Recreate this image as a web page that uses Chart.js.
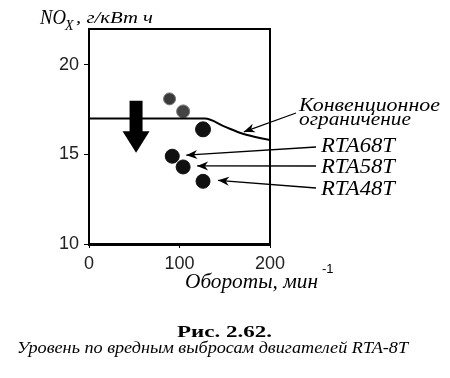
<!DOCTYPE html>
<html>
<head>
<meta charset="utf-8">
<script src="https://cdn.jsdelivr.net/npm/chart.js@4/dist/chart.umd.min.js"></script>
<style>
  html, body { margin: 0; padding: 0; background: #fff; }
  #wrap { width: 450px; height: 378px; }
</style>
</head>
<body>
<div id="wrap"><canvas id="c" width="450" height="378"></canvas></div>
<script>
// ticks
const xTicks = [0, 100, 200];
const yTicks = [10, 15, 20];

// conventional limit line
const limitX = [0, 128, 150, 170, 200];
const limitY = [17, 17, 16.55, 16.15, 15.8];

// earlier engines (upper dots)
const oldX = [89, 104, 126];
const oldY = [18.1, 17.4, 16.4];

// RTA-8T engines
const engNames = ['RTA68T', 'RTA58T', 'RTA48T'];
const engX = [92, 104, 126];
const engY = [14.9, 14.3, 13.5];

// big downward arrow (data coords)
const bigArrowX = 52;
const bigArrowTop = 18;
const bigArrowHead = 16.3;
const bigArrowTip = 15.1;

const SERIF = '"Liberation Serif", "DejaVu Serif", serif';
const SANS = '"Liberation Sans", Arial, sans-serif';

function fitText(ctx, text, x, y, w) {
  const m = ctx.measureText(text).width;
  ctx.save();
  ctx.translate(x, y);
  ctx.scale(w / m, 1);
  ctx.fillText(text, 0, 0);
  ctx.restore();
}

function arrowHead(ctx, x1, y1, x2, y2, len, half) {
  const a = Math.atan2(y2 - y1, x2 - x1);
  ctx.beginPath();
  ctx.moveTo(x2, y2);
  ctx.lineTo(x2 - len * Math.cos(a) + half * Math.sin(a), y2 - len * Math.sin(a) - half * Math.cos(a));
  ctx.lineTo(x2 - len * 0.7 * Math.cos(a), y2 - len * 0.7 * Math.sin(a));
  ctx.lineTo(x2 - len * Math.cos(a) - half * Math.sin(a), y2 - len * Math.sin(a) + half * Math.cos(a));
  ctx.closePath();
  ctx.fill();
}

function leader(ctx, x1, y1, x2, y2) {
  ctx.beginPath();
  ctx.moveTo(x1, y1);
  ctx.lineTo(x2, y2);
  ctx.stroke();
  arrowHead(ctx, x1, y1, x2, y2, 11, 4.5);
}

const frame = {
  id: 'frame',
  afterDatasetsDraw(chart) {
    const { ctx, chartArea: a, scales } = chart;
    ctx.save();
    ctx.strokeStyle = '#000';
    ctx.lineWidth = 2;
    ctx.beginPath();
    ctx.moveTo(a.left, a.top);
    ctx.lineTo(a.right, a.top);
    ctx.lineTo(a.right, a.bottom);
    ctx.stroke();

    // big arrow
    const cx = scales.x.getPixelForValue(bigArrowX);
    const yt = scales.y.getPixelForValue(bigArrowTop);
    const yh = scales.y.getPixelForValue(bigArrowHead);
    const yp = scales.y.getPixelForValue(bigArrowTip);
    ctx.fillStyle = '#000';
    ctx.beginPath();
    ctx.moveTo(cx - 6.5, yt);
    ctx.lineTo(cx + 6.5, yt);
    ctx.lineTo(cx + 6.5, yh);
    ctx.lineTo(cx + 13.5, yh);
    ctx.lineTo(cx, yp);
    ctx.lineTo(cx - 13.5, yh);
    ctx.lineTo(cx - 6.5, yh);
    ctx.closePath();
    ctx.fill();
    ctx.restore();
  },
  afterDraw(chart) {
    const { ctx, scales } = chart;
    ctx.save();
    ctx.fillStyle = '#000';
    ctx.strokeStyle = '#000';
    ctx.lineWidth = 1.3;
    ctx.textBaseline = 'alphabetic';
    ctx.textAlign = 'left';

    // y-axis title
    ctx.font = 'italic 21px ' + SERIF;
    fitText(ctx, 'NO', 40, 24, 26);
    ctx.font = 'italic 14px ' + SERIF;
    ctx.fillText('X', 65, 30);
    ctx.font = 'italic 17px ' + SERIF;
    fitText(ctx, ', г/кВт ч', 76, 23, 77);

    // x-axis title
    ctx.font = 'italic 20px ' + SERIF;
    fitText(ctx, 'Обороты, мин', 185, 288, 133);
    ctx.font = '13px ' + SANS;
    ctx.fillText('-1', 322, 273);

    // conventional limit label
    ctx.font = 'italic 19px ' + SERIF;
    fitText(ctx, 'Конвенционное', 299, 111, 141);
    fitText(ctx, 'ограничение', 299, 125, 112);
    const lx = scales.x.getPixelForValue(limitX[3]);
    const ly = scales.y.getPixelForValue(limitY[3]);
    leader(ctx, 296, 113, lx + 1, ly - 2);

    // engine labels
    const meta = chart.getDatasetMeta(2);
    const base = [152, 173, 195];
    const gap = [14, 14, 15];
    ctx.font = 'italic 22px ' + SERIF;
    engNames.forEach((n, i) => {
      const p = meta.data[i];
      fitText(ctx, n, 321, base[i], 74);
      leader(ctx, 316, base[i] - 5 - (i === 0 ? 0 : 2), p.x + gap[i], p.y - 1);
    });

    // caption
    ctx.font = 'bold 17px ' + SERIF;
    fitText(ctx, 'Рис. 2.62.', 177, 337, 95);
    ctx.font = 'italic 16px ' + SERIF;
    fitText(ctx, 'Уровень по вредным выбросам двигателей RTA-8T', 17, 353, 391);
    ctx.restore();
  }
};

new Chart(document.getElementById('c'), {
  type: 'scatter',
  data: {
    datasets: [
      {
        type: 'line',
        data: limitX.map((x, i) => ({ x: x, y: limitY[i] })),
        borderColor: '#000',
        borderWidth: 2,
        pointRadius: 0,
        cubicInterpolationMode: 'monotone',
        fill: false
      },
      {
        data: oldX.map((x, i) => ({ x: x, y: oldY[i] })),
        backgroundColor: ['#3a3a3a', '#444', '#111'],
        borderColor: ['#777', '#777', '#111'],
        borderWidth: 1,
        pointRadius: [6, 6.5, 7.5]
      },
      {
        data: engX.map((x, i) => ({ x: x, y: engY[i] })),
        backgroundColor: '#111',
        borderColor: '#111',
        borderWidth: 1,
        pointRadius: 7
      }
    ]
  },
  options: {
    responsive: false,
    animation: false,
    layout: { padding: { top: 29, right: 180, bottom: 104, left: 0 } },
    plugins: { legend: { display: false }, tooltip: { enabled: false } },
    scales: {
      x: {
        type: 'linear',
        min: 0,
        max: 200,
        afterBuildTicks: s => { s.ticks = xTicks.map(v => ({ value: v })); },
        afterFit: s => { s.height = 30; },
        grid: { drawOnChartArea: false, color: '#000', tickLength: 4 },
        border: { color: '#000', width: 3 },
        ticks: { font: { family: SANS, size: 18 }, color: '#222', padding: 5, maxRotation: 0 }
      },
      y: {
        min: 10,
        max: 22,
        afterBuildTicks: s => { s.ticks = yTicks.map(v => ({ value: v })); },
        afterFit: s => { s.width = 89; },
        grid: { drawOnChartArea: false, color: '#000', tickLength: 5 },
        border: { color: '#000', width: 2 },
        ticks: { font: { family: SANS, size: 18 }, color: '#222', padding: 5 }
      }
    }
  },
  plugins: [frame]
});
</script>
</body>
</html>
